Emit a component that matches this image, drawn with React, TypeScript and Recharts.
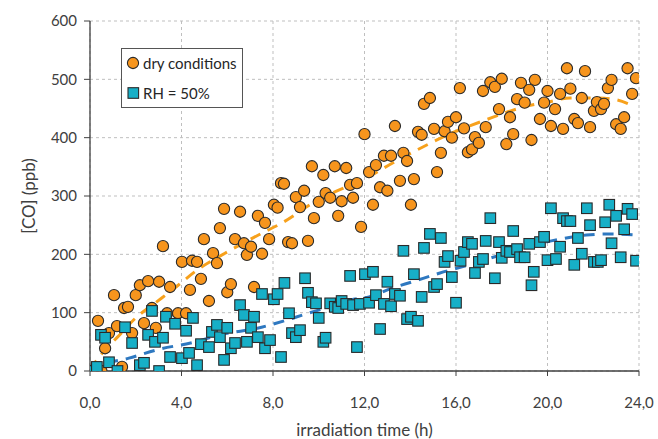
import React from 'react';
import { ComposedChart, Scatter, Line, XAxis, YAxis, CartesianGrid, Legend, Label } from 'recharts';

// dry conditions: irradiation time (h) / CO (ppb)
const dryTime = [
  0, 0.35, 0.5, 0.66, 0.83, 1.05, 1.18, 1.4, 1.49, 1.66, 1.84, 2.0, 2.18, 2.36, 2.54, 2.71, 2.88, 3.02, 3.19, 3.37,
  3.5, 3.85, 4.02, 4.2, 4.37, 4.46, 4.68, 4.85, 4.98, 5.2, 5.38, 5.55, 5.68, 5.86, 6.0, 6.16, 6.34, 6.56, 6.73, 6.86,
  7.04, 7.17, 7.34, 7.52, 7.65, 7.83, 8.04, 8.2, 8.35, 8.48, 8.66, 8.83, 9.0, 9.18, 9.36, 9.53, 9.7, 9.79, 10.0, 10.2,
  10.3, 10.5, 10.7, 10.85, 11.0, 11.2, 11.37, 11.5, 11.67, 11.85, 12.0, 12.2, 12.37, 12.5, 12.68, 12.85, 13.0, 13.16,
  13.33, 13.55, 13.7, 13.86, 14.03, 14.16, 14.34, 14.5, 14.6, 14.86, 15.04, 15.17, 15.34, 15.5, 15.65, 15.82, 16.0,
  16.17, 16.35, 16.52, 16.7, 16.83, 17.0, 17.18, 17.3, 17.5, 17.7, 17.88, 18.0, 18.2, 18.36, 18.5, 18.67, 18.84, 19.0,
  19.2, 19.3, 19.45, 19.67, 19.85, 20.0, 20.15, 20.33, 20.55, 20.68, 20.85, 21.0, 21.17, 21.33, 21.5, 21.64, 21.86,
  22.03, 22.16, 22.34, 22.47, 22.64, 22.8, 23.0, 23.2, 23.35, 23.5, 23.7, 23.87,
];
const dryCO = [
  0, 86, 0, 39, 65, 130, 77, 7, 108, 110, 65, 130, 147, 82, 154, 108, 74, 153, 214, 99,
  144, 99, 187, 99, 139, 189, 187, 158, 226, 120, 202, 185, 245, 278, 135, 149, 226, 273, 219, 199,
  213, 144, 266, 201, 254, 226, 285, 280, 322, 321, 221, 219, 298, 281, 309, 223, 351, 262, 290, 336,
  305, 297, 351, 266, 291, 348, 319, 297, 322, 247, 406, 341, 285, 353, 315, 369, 309, 369,
  420, 326, 374, 360, 285, 329, 410, 405, 458, 468, 415, 341, 374, 411, 427, 400, 435,
  485, 416, 375, 380, 401, 391, 480, 418, 495, 487, 449, 501, 389, 435, 406, 466, 494, 460,
  482, 396, 499, 432, 460, 480, 420, 449, 475, 415, 519, 484, 432, 425, 468, 514, 418,
  446, 461, 449, 458, 485, 499, 423, 415, 435, 519, 475, 502,
];

// RH = 50%
const wetTime = [
  0.04, 0.3, 0.48, 0.66, 0.83, 1.2, 1.53, 1.84, 2.18, 2.36, 2.54, 2.71, 2.84, 3.02, 3.19, 3.32, 3.5, 3.72, 4.02, 4.2,
  4.33, 4.5, 4.68, 4.85, 5.2, 5.33, 5.55, 5.68, 5.86, 6.0, 6.16, 6.34, 6.56, 6.73, 6.86, 7.04, 7.17, 7.34, 7.52, 7.65,
  7.87, 8.04, 8.2, 8.35, 8.5, 8.7, 8.83, 9.0, 9.18, 9.4, 9.53, 9.7, 9.88, 10.0, 10.2, 10.3, 10.5, 10.7, 10.85, 11.0,
  11.2, 11.37, 11.5, 11.67, 11.8, 12.02, 12.2, 12.37, 12.5, 12.68, 12.85, 13.0, 13.16, 13.33, 13.55, 13.7, 13.86, 14.03,
  14.16, 14.34, 14.5, 14.6, 14.86, 15.04, 15.17, 15.34, 15.5, 15.65, 15.82, 16.0, 16.2, 16.35, 16.52, 16.7, 16.83, 17.0,
  17.18, 17.3, 17.5, 17.7, 17.88, 18.0, 18.2, 18.36, 18.5, 18.67, 18.8, 19.0, 19.2, 19.3, 19.4, 19.67, 19.85, 20.0,
  20.15, 20.37, 20.55, 20.68, 20.85, 21.0, 21.17, 21.33, 21.5, 21.72, 21.86, 22.03, 22.2, 22.34, 22.52, 22.7, 22.8,
  23.0, 23.2, 23.35, 23.5, 23.7, 23.87,
];
const wetCO = [
  0, 7, 62, 57, 15, 0, 75, 48, 10, 14, 62, 103, 50, 0, 57, 93, 24, 81, 22, 69,
  31, 91, 10, 46, 41, 67, 79, 58, 19, 74, 39, 48, 113, 96, 50, 74, 93, 58, 132, 39,
  53, 123, 132, 24, 151, 99, 65, 58, 70, 159, 134, 118, 116, 91, 50, 57, 116, 110, 108, 120,
  115, 163, 113, 41, 115, 166, 117, 170, 130, 72, 115, 153, 111, 132, 129, 206, 89, 93,
  166, 86, 127, 211, 235, 144, 149, 228, 187, 197, 161, 117, 189, 204, 221, 218, 168, 187,
  192, 223, 262, 159, 221, 194, 206, 204, 240, 209, 195, 195, 218, 147, 170, 221, 230, 190,
  279, 192, 213, 262, 257, 257, 182, 228, 201, 279, 250, 187, 187, 190, 255, 285, 219,
  266, 195, 243, 278, 269, 189,
];

// dashed trend lines
const dryTrendTime = [0, 0.4, 0.75, 1.2, 2, 2.9, 3.76, 4.68, 6, 7.5, 8.4, 9.75, 10.7, 11.9, 13.25, 14.55, 15.65, 17.27, 19, 20, 21, 22.2, 23, 23.65];
const dryTrendCO = [2, 24, 40, 58, 91, 118, 144, 173, 204, 236, 254, 288, 307, 327, 357, 384, 405, 430, 453, 461, 468, 468, 465, 456];
const wetTrendTime = [0, 0.5, 1.7, 3.1, 4.4, 5.7, 7.5, 8.5, 9.3, 10.7, 11.4, 12.2, 13.2, 14.1, 15.3, 16.3, 17.2, 18.4, 19.7, 20.55, 21.7, 22.65, 23.9];
const wetTrendCO = [0, 10, 22, 38, 48, 62, 75, 86, 96, 113, 122, 127, 142, 153, 168, 179, 190, 204, 219, 226, 233, 235, 233];

const xTicks = [0, 4, 8, 12, 16, 20, 24];
const yTicks = [0, 100, 200, 300, 400, 500, 600];

const zip = (xs: number[], ys: number[]) => xs.map((x, i) => ({ x, y: ys[i] }));

const dryData = zip(dryTime, dryCO);
const wetData = zip(wetTime, wetCO);
const dryTrend = zip(dryTrendTime, dryTrendCO);
const wetTrend = zip(wetTrendTime, wetTrendCO);

const ORANGE = '#F7951D';
const TEAL = '#17AFC7';
const EDGE = '#2a2a2a';
const TEXT = '#404040';

const CircleDot = (props: any) => {
  const { cx, cy } = props;
  return <circle cx={cx} cy={cy} r={5.6} fill={ORANGE} stroke={EDGE} strokeWidth={1.1} />;
};

const SquareDot = (props: any) => {
  const { cx, cy } = props;
  return <rect x={cx - 5.3} y={cy - 5.3} width={10.6} height={10.6} fill={TEAL} stroke={EDGE} strokeWidth={1.1} />;
};

const LegendBox = () => (
  <div
    style={{
      position: 'relative',
      width: 122,
      height: 60,
      boxSizing: 'border-box',
      border: '1px solid #555',
      background: '#fff',
      fontSize: 15,
      color: '#262626',
    }}
  >
    <svg width={20} height={60} style={{ position: 'absolute', left: 0, top: -1 }}>
      <circle cx={11} cy={15} r={5.6} fill={ORANGE} stroke={EDGE} strokeWidth={1.1} />
      <rect x={6} y={39.7} width={10.6} height={10.6} fill={TEAL} stroke={EDGE} strokeWidth={1.1} />
    </svg>
    <div style={{ position: 'absolute', left: 21, top: 4, lineHeight: '20px', whiteSpace: 'nowrap' }}>dry conditions</div>
    <div style={{ position: 'absolute', left: 21, top: 34, lineHeight: '20px', whiteSpace: 'nowrap' }}>RH = 50%</div>
  </div>
);

const fmtX = (v: number) => v.toFixed(1).replace('.', ',');

export default function App() {
  return (
    <div style={{ position: 'absolute', left: 0, top: 0, fontFamily: 'Lato, sans-serif', background: '#fff' }}>
      <ComposedChart width={658} height={439} margin={{ top: 21, right: 19, bottom: 0, left: 0 }}>
        <CartesianGrid stroke="#BFBFBF" strokeDasharray="3 3" />
        <XAxis
          type="number"
          dataKey="x"
          domain={[0, 24]}
          ticks={xTicks}
          tickFormatter={fmtX}
          height={68}
          tickSize={5}
          tickMargin={21}
          axisLine={{ stroke: TEXT, strokeWidth: 1.3 }}
          tickLine={{ stroke: TEXT }}
          tick={{ fill: TEXT, fontSize: 15 }}
          allowDataOverflow
        >
          <Label
            content={(props: any) => {
              const vb = props.viewBox;
              return (
                <text x={vb.x + vb.width / 2} y={vb.y + 58} textAnchor="middle" dominantBaseline="central" fill={TEXT} fontSize={17}>
                  irradiation time (h)
                </text>
              );
            }}
          />
        </XAxis>
        <YAxis
          type="number"
          dataKey="y"
          domain={[0, 600]}
          ticks={yTicks}
          width={90}
          tickSize={6}
          tickMargin={7}
          axisLine={{ stroke: TEXT, strokeWidth: 1.3 }}
          tickLine={{ stroke: TEXT }}
          tick={{ fill: TEXT, fontSize: 15 }}
          allowDataOverflow
        >
          <Label
            content={(props: any) => {
              const vb = props.viewBox;
              const cx = vb.x + 28;
              const cy = vb.y + vb.height / 2;
              return (
                <text x={cx} y={cy} transform={`rotate(-90 ${cx} ${cy})`} textAnchor="middle" dominantBaseline="central" fill={TEXT} fontSize={17}>
                  [CO] (ppb)
                </text>
              );
            }}
          />
        </YAxis>
        <Legend
          layout="vertical"
          align="center"
          verticalAlign="middle"
          content={() => <LegendBox />}
          wrapperStyle={{ left: 121, top: 48, width: 122, height: 60 }}
        />
        <Scatter name="dry conditions" data={dryData} shape={CircleDot} isAnimationActive={false} />
        <Scatter name="RH = 50%" data={wetData} shape={SquareDot} isAnimationActive={false} />
        <Line
          data={dryTrend}
          dataKey="y"
          type="monotone"
          stroke="#F7A11C"
          strokeWidth={3}
          strokeDasharray="11 8"
          dot={false}
          activeDot={false}
          legendType="none"
          isAnimationActive={false}
        />
        <Line
          data={wetTrend}
          dataKey="y"
          type="monotone"
          stroke="#2E78C0"
          strokeWidth={3}
          strokeDasharray="11 8"
          dot={false}
          activeDot={false}
          legendType="none"
          isAnimationActive={false}
        />
      </ComposedChart>
    </div>
  );
}
